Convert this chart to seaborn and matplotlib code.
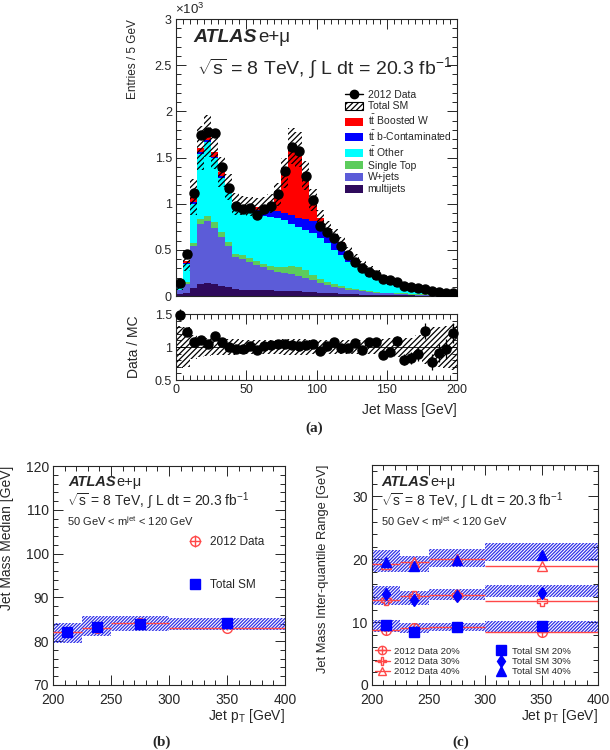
import numpy as np
import pandas as pd
import matplotlib
matplotlib.use("Agg")
import matplotlib.pyplot as plt
import seaborn as sns
from matplotlib.ticker import MultipleLocator, FormatStrFormatter
from matplotlib.patches import Patch
from matplotlib.lines import Line2D

# ---------------- data (a) : jet mass, entries x10^3 per 5 GeV ----------------
mass_edges = list(range(0, 205, 5))
boosted_w = [0.005, 0.02, 0.05, 0.04, 0.04, 0.05, 0.04, 0.02, 0.01, 0.01,
             0.02, 0.03, 0.05, 0.08, 0.18, 0.43, 0.74, 0.74, 0.48, 0.23,
             0.09, 0.04, 0.02, 0.01, 0.01, 0.01, 0.01, 0.01, 0.01, 0.01,
             0.005, 0.005, 0.005, 0.005, 0.005, 0.003, 0.002, 0.002, 0.002, 0.002]
b_contam = [0.005, 0.01, 0.02, 0.02, 0.02, 0.02, 0.02, 0.02, 0.03, 0.04,
            0.04, 0.04, 0.05, 0.06, 0.07, 0.08, 0.10, 0.10, 0.12, 0.13,
            0.13, 0.13, 0.14, 0.13, 0.10, 0.09, 0.07, 0.07, 0.07, 0.05,
            0.05, 0.05, 0.04, 0.035, 0.03, 0.03, 0.025, 0.022, 0.018, 0.017]
tt_other = [0.02, 0.20, 0.43, 0.71, 0.80, 0.69, 0.59, 0.56, 0.50, 0.49,
            0.50, 0.51, 0.52, 0.53, 0.54, 0.51, 0.46, 0.44, 0.43, 0.45,
            0.45, 0.42, 0.375, 0.335, 0.285, 0.238, 0.20, 0.155, 0.125, 0.103,
            0.084, 0.072, 0.052, 0.045, 0.036, 0.027, 0.02, 0.017, 0.012, 0.009]
single_top = [0.01, 0.02, 0.03, 0.05, 0.06, 0.06, 0.05, 0.04, 0.04, 0.04,
              0.04, 0.04, 0.04, 0.05, 0.05, 0.06, 0.08, 0.09, 0.08, 0.06,
              0.04, 0.03, 0.025, 0.02, 0.015, 0.012, 0.01, 0.01, 0.008, 0.007,
              0.006, 0.005, 0.005, 0.004, 0.004, 0.003, 0.003, 0.002, 0.002, 0.002]
w_jets = [0.04, 0.10, 0.45, 0.65, 0.67, 0.61, 0.53, 0.44, 0.34, 0.33,
          0.31, 0.27, 0.25, 0.22, 0.21, 0.20, 0.19, 0.17, 0.16, 0.13,
          0.11, 0.09, 0.07, 0.06, 0.05, 0.04, 0.035, 0.03, 0.025, 0.02,
          0.02, 0.015, 0.015, 0.01, 0.01, 0.01, 0.008, 0.006, 0.005, 0.005]
multijets = [0.02, 0.03, 0.09, 0.13, 0.14, 0.13, 0.11, 0.10, 0.08, 0.07,
             0.06, 0.07, 0.06, 0.06, 0.05, 0.05, 0.05, 0.05, 0.04, 0.04,
             0.03, 0.03, 0.03, 0.025, 0.02, 0.02, 0.015, 0.015, 0.012, 0.01,
             0.01, 0.008, 0.008, 0.006, 0.005, 0.005, 0.004, 0.003, 0.003, 0.002]
data_2012 = [0.14, 0.45, 1.12, 1.74, 1.78, 1.76, 1.40, 1.17, 0.97, 0.94,
             0.95, 0.88, 0.94, 0.97, 1.11, 1.35, 1.61, 1.57, 1.30, 1.04,
             0.76, 0.69, 0.63, 0.54, 0.44, 0.37, 0.30, 0.26, 0.23, 0.18,
             0.17, 0.15, 0.11, 0.095, 0.083, 0.076, 0.054, 0.047, 0.036, 0.036]
sm_rel_unc = [0.32, 0.30, 0.18, 0.15, 0.13, 0.12, 0.12, 0.12, 0.12, 0.11,
              0.11, 0.11, 0.10, 0.10, 0.11, 0.12, 0.12, 0.12, 0.12, 0.11,
              0.10, 0.10, 0.10, 0.10, 0.10, 0.10, 0.10, 0.11, 0.11, 0.12,
              0.13, 0.15, 0.14, 0.14, 0.18, 0.25, 0.30, 0.30, 0.32, 0.35]
ratio = [1.49, 1.22, 1.08, 1.10, 1.04, 1.16, 1.07, 1.00, 0.975, 0.97,
         1.01, 0.955, 1.02, 1.03, 1.05, 1.05, 1.03, 1.01, 1.03, 1.05,
         0.94, 1.02, 1.07, 0.99, 0.99, 1.06, 0.95, 1.08, 1.07, 0.88,
         0.93, 1.09, 0.81, 0.83, 0.89, 1.24, 0.77, 0.91, 0.975, 1.21]
ratio_err = [0.08, 0.05, 0.03, 0.02, 0.02, 0.02, 0.02, 0.03, 0.03, 0.03,
             0.03, 0.03, 0.03, 0.03, 0.03, 0.03, 0.02, 0.02, 0.03, 0.03,
             0.04, 0.04, 0.04, 0.04, 0.05, 0.05, 0.05, 0.06, 0.06, 0.06,
             0.07, 0.08, 0.09, 0.09, 0.10, 0.12, 0.12, 0.13, 0.15, 0.15]
process_labels = [r"$\mathrm{t\bar{t}}$ Boosted W", r"$\mathrm{t\bar{t}}$ b-Contaminated",
                  r"$\mathrm{t\bar{t}}$ Other", "Single Top", "W+jets", "multijets"]
process_colors = ["#ff0000", "#0000ff", "#00ffff", "#5ccc5c", "#5c5cd8", "#2e0a5c"]

# ---------------- data (b),(c) : vs jet pT ----------------
pt_edges = [200, 225, 250, 300, 400]
median_data = [82.0, 83.1, 84.1, 83.1]
median_data_err = [0.5, 0.5, 0.5, 0.6]
median_sm = [82.0, 83.3, 83.9, 84.2]
median_sm_lo = [79.5, 81.3, 82.4, 82.6]
median_sm_hi = [84.1, 85.8, 85.8, 85.4]

iqr_data = {"20%": [8.75, 9.0, 9.3, 8.5],
            "30%": [13.6, 14.2, 14.3, 13.4],
            "40%": [19.2, 19.6, 20.0, 19.0]}
iqr_sm = {"20%": [9.55, 8.5, 9.3, 9.4],
          "30%": [14.5, 13.5, 14.2, 14.7],
          "40%": [19.5, 19.0, 19.9, 20.7]}
iqr_sm_lo = {"20%": [8.5, 8.3, 8.6, 8.5],
             "30%": [12.7, 12.7, 13.5, 14.0],
             "40%": [18.0, 17.9, 18.8, 19.7]}
iqr_sm_hi = {"20%": [10.35, 9.8, 9.9, 10.2],
             "30%": [15.8, 14.9, 15.2, 15.9],
             "40%": [21.5, 20.5, 21.6, 22.6]}

# ---------------- style ----------------
sns.set_style("ticks")
plt.rcParams["font.family"] = ["Liberation Sans", "DejaVu Sans"]
plt.rcParams["mathtext.fontset"] = "custom"
plt.rcParams["mathtext.rm"] = "Liberation Sans"
plt.rcParams["mathtext.it"] = "Liberation Sans:italic"
plt.rcParams["mathtext.bf"] = "Liberation Sans:bold"
plt.rcParams["hatch.linewidth"] = 0.9

W, H = 610, 750
fig = plt.figure(figsize=(6.1, 7.5), dpi=100)


def ax_px(l, t, r, b):
    return fig.add_axes([l / W, 1 - b / H, (r - l) / W, (b - t) / H])


def ftext(x, y, s, **kw):
    kw.setdefault("va", "center")
    fig.text(x / W, 1 - y / H, s, **kw)


def style(ax, xmaj, xmin, ymaj, ymin, lsize):
    ax.xaxis.set_major_locator(MultipleLocator(xmaj))
    ax.xaxis.set_minor_locator(MultipleLocator(xmin))
    ax.yaxis.set_major_locator(MultipleLocator(ymaj))
    ax.yaxis.set_minor_locator(MultipleLocator(ymin))
    ax.tick_params(which="both", direction="in", top=True, right=True,
                   labelsize=lsize, width=0.7, pad=3)
    ax.tick_params(which="major", length=7)
    ax.tick_params(which="minor", length=3.5)
    for s in ax.spines.values():
        s.set_linewidth(0.8)


ax_main = ax_px(176, 19, 457, 296)
ax_ratio = ax_px(176, 314, 457, 380)
ax_b = ax_px(53, 466, 285, 685)
ax_c = ax_px(372, 465, 598, 685)

# ---------------- (a) main ----------------
edges_arr = np.asarray(mass_edges, dtype=float)
centers = (edges_arr[:-1] + edges_arr[1:]) / 2
comps = [boosted_w, b_contam, tt_other, single_top, w_jets, multijets]
df = pd.DataFrame({
    "mass": np.tile(centers, len(comps)),
    "entries": np.concatenate([np.asarray(c) for c in comps]),
    "process": np.repeat(process_labels, len(centers)),
})
sns.histplot(data=df, x="mass", weights="entries", hue="process",
             hue_order=process_labels, palette=process_colors,
             multiple="stack", bins=mass_edges, element="step", fill=True,
             alpha=1, linewidth=0, legend=False, ax=ax_main)
total = np.sum([np.asarray(c) for c in comps], axis=0)
unc = np.asarray(sm_rel_unc)
ax_main.bar(centers, 2 * total * unc, bottom=total * (1 - unc), width=5,
            fill=False, hatch="//////", edgecolor="k", linewidth=0, zorder=3)
ax_main.errorbar(centers, data_2012, fmt="o", color="k", ms=6.5, zorder=5)
ax_main.set_xlim(0, 200)
ax_main.set_ylim(0, 3)
style(ax_main, 50, 5, 0.5, 0.1, 9)
ax_main.yaxis.set_major_formatter(FormatStrFormatter("%g"))
ax_main.tick_params(labelbottom=False)
ax_main.set_xlabel("")
ax_main.set_ylabel("Entries / 5 GeV", loc="top", fontsize=8.5)
ax_main.yaxis.set_label_coords(-0.13, 1.0)

leg_handles = [Line2D([], [], color="k", marker="o", ms=6, lw=1),
               Patch(facecolor="white", edgecolor="k", hatch="//////", lw=0.8)]
leg_handles += [Patch(facecolor=c, edgecolor="none") for c in process_colors]
ax_main.legend(leg_handles, ["2012 Data", "Total SM"] + process_labels,
               loc="upper left", bbox_to_anchor=(0.60, 0.745), frameon=False,
               fontsize=7.5, handlelength=1.8, handleheight=0.8,
               handletextpad=0.4, labelspacing=0.17, borderpad=0, borderaxespad=0)

ftext(193, 38, "ATLAS", fontsize=14, fontweight="bold", style="italic")
ftext(258, 38, "e+μ", fontsize=13.5)
ftext(197, 68, r"$\sqrt{\mathrm{s}}$ = 8 TeV, ∫ L dt = 20.3 fb$^{-1}$", fontsize=14)
ftext(175, 9, r"×10$^{3}$", fontsize=9.5)

# ---------------- (a) ratio ----------------
ru = np.asarray(sm_rel_unc)
ax_ratio.bar(centers, 2 * ru, bottom=1 - ru, width=5, fill=False,
             hatch="//////", edgecolor="k", linewidth=0, zorder=2)
ax_ratio.axhline(1, color="k", lw=0.6, zorder=3)
ax_ratio.errorbar(centers, ratio, yerr=ratio_err, fmt="o", color="k", ms=6.5,
                  elinewidth=0.9, capsize=0, zorder=5, clip_on=False)
ax_ratio.set_xlim(0, 200)
ax_ratio.set_ylim(0.5, 1.5)
style(ax_ratio, 50, 5, 0.5, 0.1, 9)
ax_ratio.yaxis.set_major_formatter(FormatStrFormatter("%g"))
ax_ratio.set_ylabel("Data / MC", fontsize=10)
ax_ratio.yaxis.set_label_coords(-0.125, 0.5)
ax_ratio.set_xlabel("Jet Mass [GeV]", loc="right", fontsize=10)
ax_ratio.xaxis.set_label_coords(1.0, -0.35)
ftext(305, 428, "(a)", fontsize=11, fontweight="bold", family="Liberation Serif")

# ---------------- (b) ----------------
pe = np.asarray(pt_edges, dtype=float)
pc = (pe[:-1] + pe[1:]) / 2
pw = np.diff(pe)
lo = np.asarray(median_sm_lo)
hi = np.asarray(median_sm_hi)
ax_b.bar(pc, hi - lo, bottom=lo, width=pw, fill=False, hatch="//////////",
         edgecolor="#3030e8", linewidth=0, zorder=2)
cont_b = ax_b.errorbar(pc, median_data, xerr=pw / 2, yerr=median_data_err,
                       fmt="o", color="#ff4848", mfc="none", ms=7, mew=1,
                       elinewidth=1, capsize=0, zorder=4)
sc_b, = ax_b.plot(pc, median_sm, "s", color="#0000ff", ms=6.5, zorder=5, lw=0)
ax_b.set_xlim(200, 400)
ax_b.set_ylim(70, 120)
style(ax_b, 50, 10, 10, 2, 10)
ax_b.tick_params(axis="x", pad=5.5)
ax_b.set_ylabel("Jet Mass Median [GeV]", loc="top", fontsize=10)
ax_b.yaxis.set_label_coords(-0.17, 1.0)
ax_b.set_xlabel(r"Jet p$_{\mathrm{T}}$ [GeV]", loc="right", fontsize=10)
ax_b.xaxis.set_label_coords(1.0, -0.10)
ax_b.legend([cont_b, sc_b], ["2012 Data", "Total SM"], loc="upper left",
            bbox_to_anchor=(0.57, 0.68), frameon=False, fontsize=8.5,
            handlelength=1.6, handletextpad=0.5, labelspacing=2.6,
            borderpad=0, borderaxespad=0)
ftext(68, 482, "ATLAS", fontsize=10.5, fontweight="bold", style="italic")
ftext(116, 482, "e+μ", fontsize=10.5)
ftext(67, 501, r"$\sqrt{\mathrm{s}}$ = 8 TeV, ∫ L dt = 20.3 fb$^{-1}$", fontsize=10)
ftext(67, 521, r"50 GeV < m$^{\mathrm{jet}}$ < 120 GeV", fontsize=8)
ftext(152, 742, "(b)", fontsize=11, fontweight="bold", family="Liberation Serif")

# ---------------- (c) ----------------
data_markers = {"20%": "o", "30%": "P", "40%": "^"}
sm_markers = {"20%": ("s", 6.5), "30%": ("d", 6), "40%": ("^", 7)}
h_data, h_sm = [], []
for q in ["20%", "30%", "40%"]:
    l = np.asarray(iqr_sm_lo[q])
    h = np.asarray(iqr_sm_hi[q])
    ax_c.bar(pc, h - l, bottom=l, width=pw, fill=False, hatch="//////////",
             edgecolor="#3030e8", linewidth=0, zorder=2)
    cont = ax_c.errorbar(pc, iqr_data[q], xerr=pw / 2, fmt=data_markers[q],
                         color="#ff4848", mfc="none", ms=7, mew=1,
                         elinewidth=1, capsize=0, zorder=4)
    handle = Line2D([], [], color="#ff4848", marker=data_markers[q], mfc="none",
                    ms=6, mew=1, lw=1)
    if q == "20%":
        ax_c.plot(pc, iqr_data[q], "+", color="#ff4848", ms=7, mew=1, zorder=4)
        handle = (handle, Line2D([], [], color="#ff4848", marker="+", ms=6, lw=0))
    h_data.append(handle)
    m, s = sm_markers[q]
    sh, = ax_c.plot(pc, iqr_sm[q], m, color="#0000ff", ms=s, lw=0, zorder=5)
    h_sm.append(sh)
ax_c.set_xlim(200, 400)
ax_c.set_ylim(0, 35)
style(ax_c, 50, 10, 10, 2, 10)
ax_c.tick_params(axis="x", pad=5.5)
ax_c.set_ylabel("Jet Mass Inter-quantile Range [GeV]", loc="top", fontsize=9.3)
ax_c.yaxis.set_label_coords(-0.19, 1.0)
ax_c.set_xlabel(r"Jet p$_{\mathrm{T}}$ [GeV]", loc="right", fontsize=10)
ax_c.xaxis.set_label_coords(1.0, -0.10)
ax_c.legend(h_data + h_sm,
            ["2012 Data 20%", "2012 Data 30%", "2012 Data 40%",
             "Total SM 20%", "Total SM 30%", "Total SM 40%"],
            ncol=2, loc="upper left", bbox_to_anchor=(0.012, 0.175),
            frameon=False, fontsize=6.8, handlelength=1.6, handletextpad=0.4,
            labelspacing=0.15, columnspacing=3.6, borderpad=0, borderaxespad=0)
ftext(381, 482, "ATLAS", fontsize=10.5, fontweight="bold", style="italic")
ftext(430, 482, "e+μ", fontsize=10.5)
ftext(381, 501, r"$\sqrt{\mathrm{s}}$ = 8 TeV, ∫ L dt = 20.3 fb$^{-1}$", fontsize=10)
ftext(381, 521, r"50 GeV < m$^{\mathrm{jet}}$ < 120 GeV", fontsize=8)
ftext(452, 742, "(c)", fontsize=11, fontweight="bold", family="Liberation Serif")

fig.savefig("out.png", dpi=100)
